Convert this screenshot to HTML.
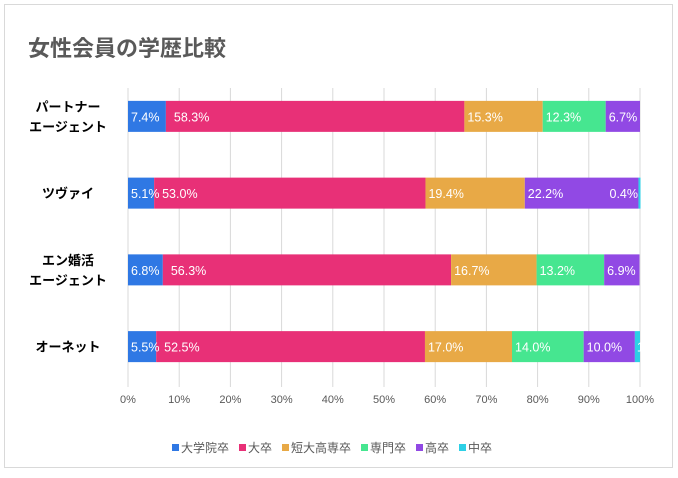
<!DOCTYPE html>
<html><head><meta charset="utf-8">
<style>
body{margin:0;background:#fff;}
svg text{font-family:"Liberation Sans","Noto Sans CJK JP",sans-serif;}
</style></head>
<body>
<svg id="chart" width="678" height="473" xmlns="http://www.w3.org/2000/svg">
<defs><clipPath id="plotclip"><rect x="0" y="0" width="641" height="473"/></clipPath></defs>
<rect x="4.5" y="4.5" width="668" height="463" fill="#fff" stroke="#d9d9d9"/>
<text x="28" y="56" font-size="22" font-weight="bold" fill="#595959">女性会員の学歴比較</text>
<g id="grid"></g><g id="bars"></g><g id="labels" clip-path="url(#plotclip)"></g><g id="cats"></g><g id="ticks"></g><g id="legend"></g>
</svg>
<script>
const categories=[["パートナー","エージェント"],["ツヴァイ"],["エン婚活","エージェント"],["オーネット"]];
const seriesNames=["大学院卒","大卒","短大高専卒","専門卒","高卒","中卒"];
const s1=[7.4,5.1,6.8,5.5];
const s2=[58.3,53.0,56.3,52.5];
const s3=[15.3,19.4,16.7,17.0];
const s4=[12.3,0,13.2,14.0];
const s5=[6.7,22.2,6.9,10.0];
const s6=[0,0.4,0,1.0];
const tickLabels=["0%","10%","20%","30%","40%","50%","60%","70%","80%","90%","100%"];
const series=[s1,s2,s3,s4,s5,s6];
const colors=["#2f78e4","#e83077","#e8a946","#46e690","#9149e4","#2dd0e6"];
const NS="http://www.w3.org/2000/svg";
const x0=128,x1=640,gTop=88,gBot=382;
const bandTop=78,bandBot=385;
const xs=v=>x0+(x1-x0)*v/100;
const band=(bandBot-bandTop)/categories.length;
const yc=i=>bandTop+band*(i+0.5);
function mk(t,a,p){const e=document.createElementNS(NS,t);for(const k in a)e.setAttribute(k,a[k]);p.appendChild(e);return e;}
const grid=document.getElementById('grid'),ticks=document.getElementById('ticks');
tickLabels.forEach((t,i)=>{
 const v=i*10;
 const l=mk('line',{x1:xs(v),x2:xs(v),y1:gTop,y2:gBot+5,stroke:'#d9d9d9','stroke-width':1},grid);
 
 
 const tx=mk('text',{x:xs(v),y:403,'font-size':11,fill:'#595959','text-anchor':'middle'},ticks);
 tx.textContent=t;
 
 
});
const bars=document.getElementById('bars'),labels=document.getElementById('labels'),cats=document.getElementById('cats');
const bh=31;
categories.forEach((c,i)=>{
 const cy=yc(i);
 const g=mk('text',{x:68,'font-size':13,'font-weight':'bold',fill:'#000','text-anchor':'middle'},cats);
 
 
 c.forEach((line,j)=>{const ts=mk('tspan',{x:68,y:cy-(c.length-1)*10+j*20+5},g);ts.textContent=line;});
 let acc=0;
 series.forEach((s,k)=>{
  const v=s[i];
  if(v>0){
   const r=mk('rect',{x:xs(acc),y:cy-bh/2,width:xs(acc+v)-xs(acc),height:bh,fill:colors[k]},bars);
   
   
   let lx=xs(acc)+(k===1?8:3),anchor='start';
   if(v<0.5){lx=xs(100)-2;anchor='end';}
   else if(v<3){lx=xs(acc)+2;}
   const t=mk('text',{x:lx,y:cy+5,'font-size':12.5,fill:'#fff','text-anchor':anchor},labels);
   t.textContent=v.toFixed(1)+'%';
   
   
  }
  acc+=v;
 });
});
const leg=document.getElementById('legend');
let lx=172;
seriesNames.forEach((n,k)=>{
 const r=mk('rect',{x:lx,y:444,width:7,height:7,fill:colors[k]},leg);
 
 
 const t=mk('text',{x:lx+9,y:452,'font-size':12,fill:'#595959'},leg);
 t.textContent=n;
 
 
 lx+=9+n.length*12+10;
});
</script>
</body></html>
